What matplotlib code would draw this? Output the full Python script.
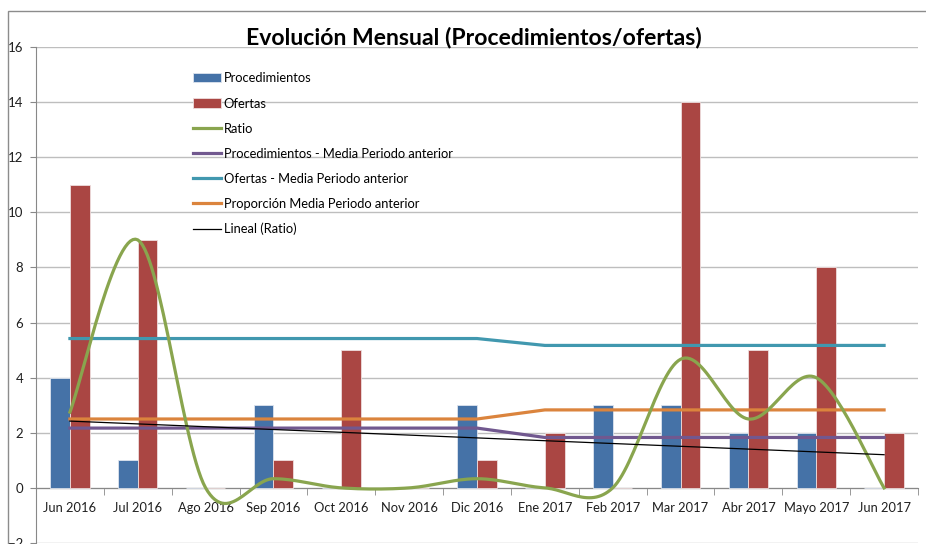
import numpy as np
import matplotlib.pyplot as plt
from matplotlib.patches import Rectangle

# --- DATA ---
MESES = ['Jun 2016', 'Jul 2016', 'Ago 2016', 'Sep 2016', 'Oct 2016', 'Nov 2016', 'Dic 2016',
         'Ene 2017', 'Feb 2017', 'Mar 2017', 'Abr 2017', 'Mayo 2017', 'Jun 2017']
PROCEDIMIENTOS = [4, 1, 0, 3, 0, 0, 3, 0, 3, 3, 2, 2, 0]
OFERTAS = [11, 9, 0, 1, 5, 0, 1, 2, 0, 14, 5, 8, 2]
RATIO = [2.75, 9, 0, 0.333, 0, 0, 0.333, 0, 0, 4.667, 2.5, 4, 0]
PROC_MEDIA = [2.17, 2.17, 2.17, 2.17, 2.17, 2.17, 2.17, 1.83, 1.83, 1.83, 1.83, 1.83, 1.83]
OFERTAS_MEDIA = [5.42, 5.42, 5.42, 5.42, 5.42, 5.42, 5.42, 5.17, 5.17, 5.17, 5.17, 5.17, 5.17]
PROPORCION_MEDIA = [2.5, 2.5, 2.5, 2.5, 2.5, 2.5, 2.5, 2.83, 2.83, 2.83, 2.83, 2.83, 2.83]

# --- STYLE ---
C_BLUE = '#4572A7'
C_RED = '#AA4643'
C_GREEN = '#89A54E'
C_PURPLE = '#71588F'
C_CYAN = '#4198AF'
C_ORANGE = '#DB843D'
GRID = '#BEBEBE'
FONT = ['Lato', 'DejaVu Sans']


def smooth_curve(x, y, steps=30):
    # Excel-like smoothed line (Catmull-Rom as cubic Bezier)
    x = np.asarray(x, float)
    y = np.asarray(y, float)
    px = np.concatenate([[x[0]], x, [x[-1]]])
    py = np.concatenate([[y[0]], y, [y[-1]]])
    xs, ys = [], []
    t = np.linspace(0, 1, steps)
    for i in range(1, len(px) - 2):
        p0 = np.array([px[i], py[i]])
        p3 = np.array([px[i + 1], py[i + 1]])
        c1 = p0 + (p3 - np.array([px[i - 1], py[i - 1]])) / 6
        c2 = p3 - (np.array([px[i + 2], py[i + 2]]) - p0) / 6
        pts = ((1 - t) ** 3)[:, None] * p0 + (3 * (1 - t) ** 2 * t)[:, None] * c1 \
            + (3 * (1 - t) * t ** 2)[:, None] * c2 + (t ** 3)[:, None] * p3
        xs.extend(pts[:, 0])
        ys.extend(pts[:, 1])
    return np.array(xs), np.array(ys)


def plot_chart():
    plt.rcParams['font.family'] = FONT
    fig = plt.figure(figsize=(9.26, 5.44), dpi=100)
    ax = fig.add_axes([36 / 926, 1 / 544, 882 / 926, 496 / 544])

    x = np.arange(len(MESES))
    w = 0.29
    b1 = ax.bar(x - w / 2, PROCEDIMIENTOS, w, color=C_BLUE, edgecolor='#DDE4EE', linewidth=0.6,
                label='Procedimientos', zorder=3)
    b2 = ax.bar(x + w / 2, OFERTAS, w, color=C_RED, edgecolor='#EEDDDD', linewidth=0.6,
                label='Ofertas', zorder=3)

    sx, sy = smooth_curve(x, RATIO)
    l1, = ax.plot(sx, sy, color=C_GREEN, lw=2.3, label='Ratio', zorder=5)
    l2, = ax.plot(x, PROC_MEDIA, color=C_PURPLE, lw=2.3,
                  label='Procedimientos - Media Periodo anterior', zorder=4)
    l3, = ax.plot(x, OFERTAS_MEDIA, color=C_CYAN, lw=2.3,
                  label='Ofertas - Media Periodo anterior', zorder=4)
    l4, = ax.plot(x, PROPORCION_MEDIA, color=C_ORANGE, lw=2.3,
                  label='Proporción Media Periodo anterior', zorder=4)

    # linear trend of the ratio
    coef = np.polyfit(x, RATIO, 1)
    l5, = ax.plot(x, np.polyval(coef, x), color='black', lw=0.9, label='Lineal (Ratio)', zorder=6)

    ax.set_xlim(-0.5, len(MESES) - 0.5)
    ax.set_ylim(-2, 16)
    ax.set_yticks(np.arange(-2, 17, 2))
    ax.yaxis.grid(True, color=GRID, lw=1)
    ax.set_axisbelow(True)

    for s in ['top', 'right']:
        ax.spines[s].set_visible(False)
    ax.spines['left'].set_color('#888888')
    ax.spines['bottom'].set_color('#888888')
    ax.spines['bottom'].set_position(('data', 0))

    ax.set_xticks(x)
    ax.set_xticklabels(MESES, fontsize=9.3, color='#1F1F1F')
    ax.set_xticks(np.arange(-0.5, len(MESES), 1), minor=True)
    ax.tick_params(axis='x', which='major', length=0, pad=10)
    ax.tick_params(axis='x', which='minor', length=5, color='#888888')
    ax.tick_params(axis='y', length=4, color='#888888', labelsize=9.5, labelcolor='#1F1F1F', pad=5)

    fig.text(474 / 926, 1 - 38 / 544, 'Evolución Mensual (Procedimientos/ofertas)',
             ha='center', va='center', fontsize=16.6, fontweight='bold')

    ax.legend(handles=[b1, b2, l1, l2, l3, l4, l5],
              loc='upper left', bbox_to_anchor=(187 / 926, 1 - 66 / 544),
              bbox_transform=fig.transFigure, frameon=False, fontsize=9.3,
              handlelength=2.1, handletextpad=0.25, labelspacing=1.01, borderpad=0)

    fig.add_artist(Rectangle((8 / 926, -0.1), 1.0, 1.1 - 11 / 544, transform=fig.transFigure,
                             fill=False, edgecolor='#8C8C8C', lw=1))

    fig.savefig('out.png', dpi=100)


if __name__ == "__main__":
    plot_chart()
